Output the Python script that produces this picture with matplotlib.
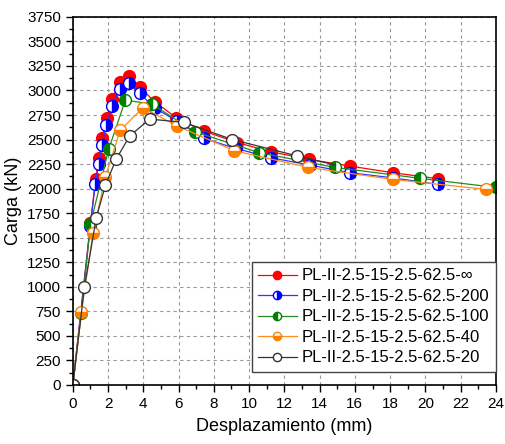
import numpy as np
import matplotlib
matplotlib.use("Agg")
import matplotlib.pyplot as plt
from matplotlib.ticker import MultipleLocator

plt.rcParams['font.family'] = ['Liberation Sans', 'DejaVu Sans']

labels = ["PL-II-2.5-15-2.5-62.5-\u221e", "PL-II-2.5-15-2.5-62.5-200",
          "PL-II-2.5-15-2.5-62.5-100", "PL-II-2.5-15-2.5-62.5-40",
          "PL-II-2.5-15-2.5-62.5-20"]

x_inf = [0, 1.0, 1.29, 1.48, 1.65, 1.93, 2.22, 2.65, 3.16, 3.79, 4.64, 5.87, 7.43, 9.30, 11.23, 13.4, 15.72, 18.15, 20.74]
y_inf = [0, 1650, 2095, 2308, 2512, 2716, 2912, 3089, 3147, 3038, 2885, 2722, 2587, 2470, 2376, 2298, 2230, 2162, 2101]

x_200 = [0, 0.99, 1.27, 1.46, 1.65, 1.90, 2.22, 2.65, 3.16, 3.79, 4.68, 5.9, 7.43, 9.24, 11.23, 13.45, 15.72, 18.15, 20.7]
y_200 = [0, 1619, 2044, 2250, 2444, 2648, 2841, 3011, 3073, 2970, 2817, 2690, 2512, 2410, 2315, 2240, 2162, 2110, 2044]

x_100 = [0, 0.48, 1.0, 2.03, 2.98, 4.49, 6.91, 10.57, 14.87, 19.7, 24.0]
y_100 = [0, 730, 1640, 2400, 2902, 2861, 2580, 2366, 2216, 2105, 2012]

x_40 = [0, 0.48, 1.14, 1.84, 2.69, 3.98, 5.93, 9.17, 13.35, 18.15, 23.43]
y_40 = [0, 740, 1545, 2121, 2597, 2824, 2637, 2386, 2216, 2094, 1993]

x_20 = [0, 0.66, 1.33, 1.85, 2.46, 3.22, 4.36, 6.29, 9.05, 12.69, 14.9]
y_20 = [0, 1000, 1704, 2037, 2301, 2536, 2709, 2675, 2500, 2335, 2240]

fig = plt.figure(figsize=(5.06, 4.44), dpi=100)
ax = fig.add_axes([0.144, 0.133, 0.836, 0.829])

ms = 8.5
ax.plot(x_inf, y_inf, color='#ff0000', lw=0.9, marker='o', ms=ms,
        mfc='#ff0000', mec='#ff0000', label=labels[0])
ax.plot(x_200, y_200, color='#3333ff', lw=0.9, marker='o', ms=ms, fillstyle='right',
        mfc='#0000ff', mfcalt='white', mec='#0000ff', label=labels[1])
ax.plot(x_100, y_100, color='#228b22', lw=0.9, marker='o', ms=ms, fillstyle='left',
        mfc='#008000', mfcalt='white', mec='#008000', label=labels[2])
ax.plot(x_40, y_40, color='#ff8c1a', lw=0.9, marker='o', ms=ms, fillstyle='bottom',
        mfc='#ff8000', mfcalt='white', mec='#ff8000', label=labels[3])
ax.plot(x_20, y_20, color='#333333', lw=0.9, marker='o', ms=ms,
        mfc='white', mec='#333333', markevery=list(range(len(x_20) - 1)), label=labels[4])

ax.set_xlim(0, 24)
ax.set_ylim(0, 3750)
ax.xaxis.set_major_locator(MultipleLocator(2))
ax.xaxis.set_minor_locator(MultipleLocator(1))
ax.yaxis.set_major_locator(MultipleLocator(250))
ax.yaxis.set_minor_locator(MultipleLocator(125))
ax.tick_params(which='major', direction='out', length=5, width=1, labelsize=11)
ax.tick_params(which='minor', direction='out', length=3, width=1)
ax.grid(True, which='major', linestyle=(0, (3, 3)), color='#999999', lw=0.8)
for s in ['left', 'bottom', 'right', 'top']:
    ax.spines[s].set_linewidth(1.2)

ax.set_xlabel("Desplazamiento (mm)", fontsize=13, labelpad=5)
ax.set_ylabel("Carga (kN)", fontsize=13, labelpad=4)

leg = ax.legend(loc='lower right', fontsize=12, fancybox=False, edgecolor='#444444',
                handlelength=2.3, handletextpad=0.3, borderpad=0.4, labelspacing=0.33,
                markerscale=0.7, framealpha=1, borderaxespad=0,
                bbox_to_anchor=(1.0, 0.035))
leg.get_frame().set_linewidth(1.0)

fig.savefig("out.png", dpi=100)
